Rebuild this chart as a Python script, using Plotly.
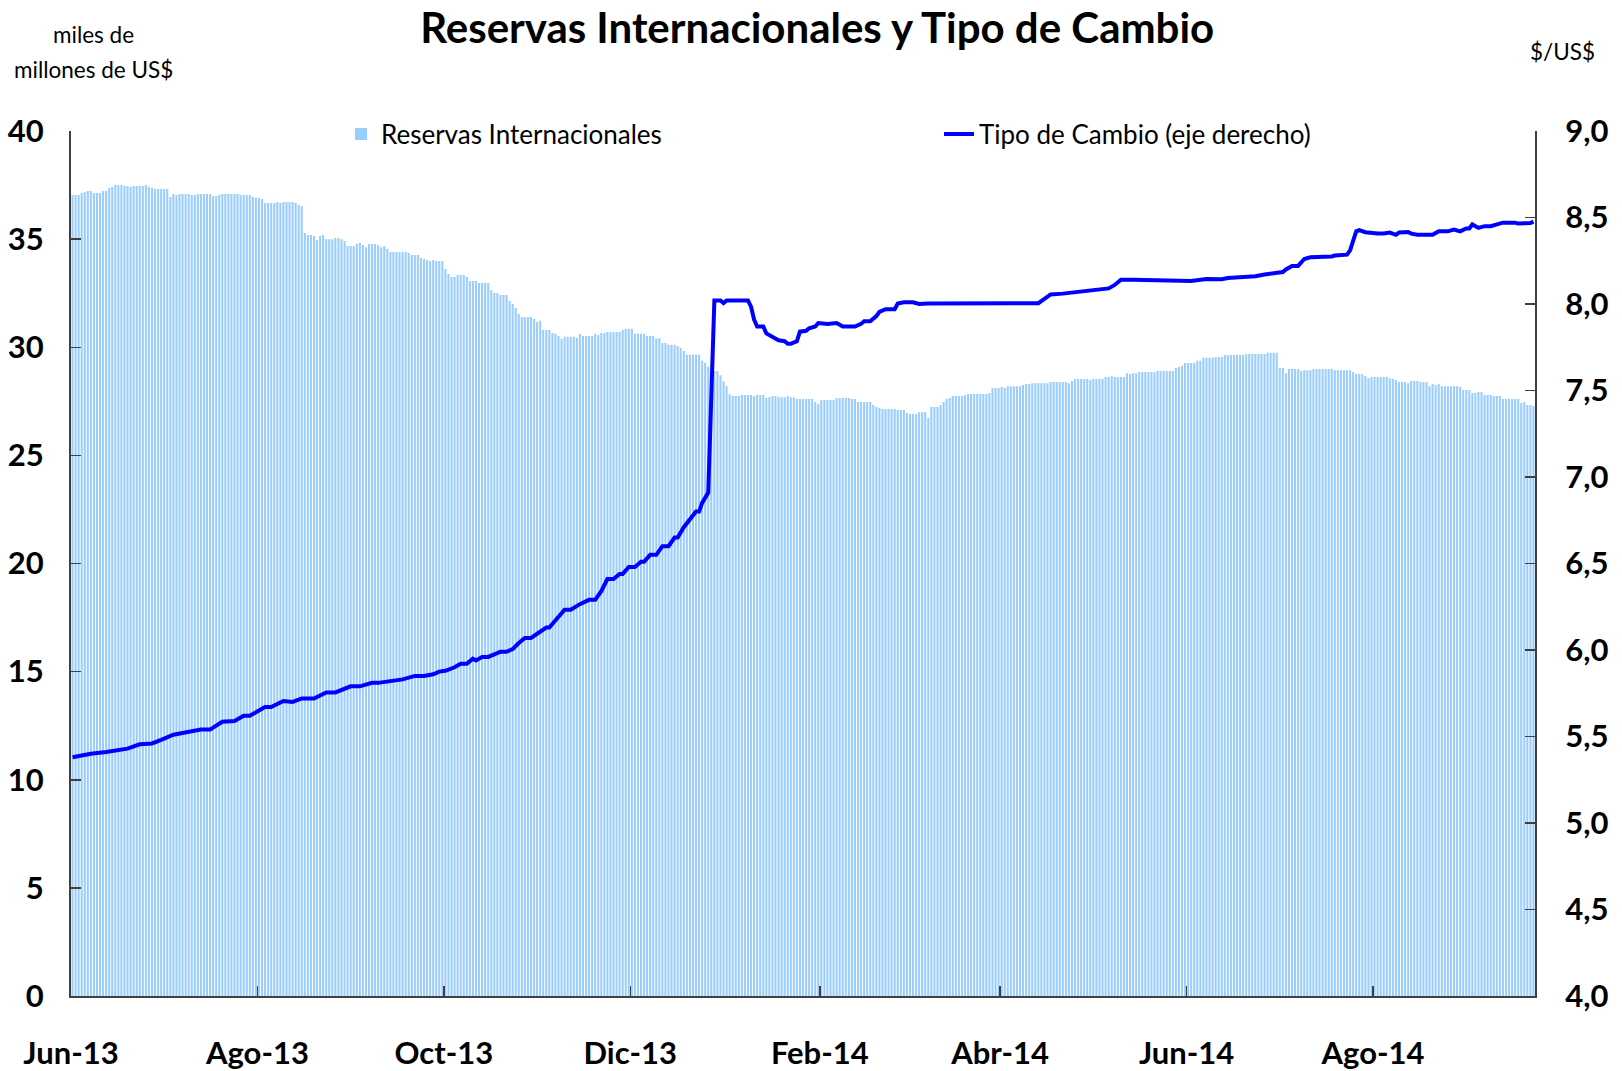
import pandas as pd
import plotly.graph_objects as go

# ---- Data ----
start_date = "2013-06-01"

# Daily international reserves (billions US$), one value per calendar day from 2013-06-01
reservas = [
    37.04, 37.04, 37.04, 37.13, 37.18, 37.23, 37.23, 37.13, 37.13, 37.13,
    37.23, 37.23, 37.37, 37.41, 37.50, 37.50, 37.50, 37.46, 37.46, 37.41,
    37.46, 37.46, 37.46, 37.46, 37.50, 37.41, 37.37, 37.32, 37.32, 37.32,
    37.32, 37.32, 36.95, 37.09, 37.04, 37.09, 37.09, 37.09, 37.09, 37.04,
    37.04, 37.09, 37.09, 37.09, 37.09, 37.09, 37.00, 37.00, 37.04, 37.09,
    37.09, 37.09, 37.09, 37.09, 37.09, 37.04, 37.04, 37.04, 37.04, 36.95,
    36.91, 36.91, 36.86, 36.67, 36.67, 36.67, 36.67, 36.72, 36.67, 36.72,
    36.72, 36.72, 36.72, 36.67, 36.58, 36.53, 35.28, 35.19, 35.19, 35.14,
    34.96, 35.14, 35.19, 35.00, 35.00, 35.00, 35.05, 35.05, 35.00, 34.91,
    34.68, 34.68, 34.68, 34.77, 34.82, 34.73, 34.63, 34.77, 34.77, 34.77,
    34.73, 34.63, 34.68, 34.54, 34.40, 34.40, 34.40, 34.40, 34.40, 34.40,
    34.36, 34.27, 34.27, 34.27, 34.13, 34.08, 34.03, 33.99, 34.03, 33.99,
    33.99, 33.99, 33.62, 33.39, 33.25, 33.25, 33.34, 33.34, 33.34, 33.25,
    33.06, 33.06, 33.06, 32.97, 32.97, 32.97, 32.97, 32.65, 32.51, 32.51,
    32.42, 32.42, 32.42, 32.14, 32.00, 31.82, 31.54, 31.40, 31.40, 31.40,
    31.40, 31.31, 31.17, 31.22, 30.80, 30.80, 30.80, 30.66, 30.62, 30.52,
    30.39, 30.48, 30.48, 30.48, 30.48, 30.43, 30.62, 30.52, 30.52, 30.52,
    30.52, 30.62, 30.57, 30.66, 30.66, 30.71, 30.71, 30.71, 30.71, 30.71,
    30.80, 30.85, 30.85, 30.85, 30.62, 30.62, 30.62, 30.62, 30.52, 30.52,
    30.52, 30.39, 30.43, 30.20, 30.20, 30.11, 30.11, 30.11, 30.06, 29.97,
    29.83, 29.65, 29.65, 29.65, 29.65, 29.65, 29.37, 29.28, 29.10, 28.90,
    28.90, 28.90, 28.71, 28.43, 28.20, 27.83, 27.74, 27.74, 27.74, 27.79,
    27.79, 27.79, 27.79, 27.74, 27.79, 27.79, 27.79, 27.65, 27.69, 27.74,
    27.74, 27.69, 27.69, 27.69, 27.74, 27.69, 27.69, 27.61, 27.61, 27.61,
    27.61, 27.61, 27.61, 27.47, 27.38, 27.56, 27.56, 27.56, 27.56, 27.56,
    27.65, 27.65, 27.65, 27.65, 27.65, 27.61, 27.61, 27.47, 27.47, 27.47,
    27.47, 27.47, 27.33, 27.24, 27.19, 27.14, 27.14, 27.14, 27.14, 27.14,
    27.10, 27.10, 27.10, 26.96, 26.91, 26.91, 26.91, 27.00, 27.00, 27.00,
    26.73, 27.24, 27.24, 27.24, 27.33, 27.47, 27.61, 27.65, 27.74, 27.74,
    27.74, 27.74, 27.79, 27.84, 27.84, 27.84, 27.84, 27.84, 27.84, 27.84,
    27.88, 28.11, 28.11, 28.11, 28.16, 28.11, 28.20, 28.20, 28.20, 28.20,
    28.20, 28.25, 28.30, 28.30, 28.34, 28.34, 28.34, 28.34, 28.34, 28.34,
    28.39, 28.39, 28.39, 28.39, 28.39, 28.39, 28.34, 28.44, 28.53, 28.53,
    28.53, 28.53, 28.53, 28.48, 28.53, 28.53, 28.53, 28.53, 28.62, 28.62,
    28.67, 28.62, 28.62, 28.62, 28.62, 28.80, 28.76, 28.80, 28.80, 28.85,
    28.85, 28.85, 28.85, 28.85, 28.85, 28.90, 28.90, 28.90, 28.90, 28.90,
    28.90, 29.04, 29.09, 29.14, 29.27, 29.27, 29.27, 29.27, 29.37, 29.37,
    29.51, 29.51, 29.51, 29.51, 29.55, 29.55, 29.55, 29.64, 29.64, 29.64,
    29.64, 29.64, 29.64, 29.64, 29.69, 29.69, 29.69, 29.69, 29.69, 29.69,
    29.69, 29.74, 29.74, 29.74, 29.74, 29.04, 29.04, 28.80, 28.99, 28.99,
    28.99, 28.99, 28.90, 28.94, 28.94, 28.94, 28.99, 28.99, 28.99, 28.99,
    28.99, 28.99, 28.99, 28.94, 28.94, 28.94, 28.94, 28.94, 28.94, 28.85,
    28.76, 28.76, 28.76, 28.67, 28.57, 28.62, 28.62, 28.62, 28.62, 28.62,
    28.62, 28.57, 28.53, 28.48, 28.39, 28.39, 28.39, 28.34, 28.44, 28.44,
    28.44, 28.39, 28.39, 28.39, 28.20, 28.30, 28.25, 28.30, 28.20, 28.20,
    28.20, 28.20, 28.20, 28.20, 28.16, 28.02, 28.02, 28.02, 27.88, 27.88,
    27.93, 27.93, 27.79, 27.79, 27.79, 27.74, 27.74, 27.74, 27.61, 27.61,
    27.61, 27.61, 27.61, 27.61, 27.42, 27.47, 27.33, 27.33, 27.28,
]

# Exchange rate ($/US$) observations
tc_fechas = [
    "2013-06-01", "2013-06-07", "2013-06-12", "2013-06-15", "2013-06-19", "2013-06-23",
    "2013-06-27", "2013-06-30", "2013-07-04", "2013-07-07", "2013-07-10", "2013-07-13",
    "2013-07-16", "2013-07-20", "2013-07-24", "2013-07-27", "2013-07-29", "2013-08-03",
    "2013-08-05", "2013-08-09", "2013-08-12", "2013-08-15", "2013-08-19", "2013-08-23",
    "2013-08-26", "2013-08-28", "2013-08-31", "2013-09-03", "2013-09-07", "2013-09-09",
    "2013-09-14", "2013-09-17", "2013-09-21", "2013-09-24", "2013-09-27", "2013-09-29",
    "2013-10-01", "2013-10-04", "2013-10-06", "2013-10-08", "2013-10-10", "2013-10-11",
    "2013-10-13", "2013-10-15", "2013-10-17", "2013-10-19", "2013-10-21", "2013-10-23",
    "2013-10-25", "2013-10-27", "2013-10-29", "2013-11-03", "2013-11-04", "2013-11-06",
    "2013-11-09", "2013-11-11", "2013-11-14", "2013-11-17", "2013-11-19", "2013-11-21",
    "2013-11-23", "2013-11-25", "2013-11-27", "2013-11-28", "2013-11-30", "2013-12-02",
    "2013-12-04", "2013-12-05", "2013-12-07", "2013-12-09", "2013-12-11", "2013-12-13",
    "2013-12-15", "2013-12-16", "2013-12-18", "2013-12-22", "2013-12-23", "2013-12-24",
    "2013-12-26", "2013-12-28", "2013-12-30", "2013-12-31", "2014-01-01", "2014-01-03",
    "2014-01-06", "2014-01-08", "2014-01-09", "2014-01-10", "2014-01-11", "2014-01-13",
    "2014-01-14", "2014-01-16", "2014-01-18", "2014-01-20", "2014-01-21", "2014-01-22",
    "2014-01-24", "2014-01-25", "2014-01-27", "2014-01-28", "2014-01-30", "2014-01-31",
    "2014-02-03", "2014-02-06", "2014-02-08", "2014-02-12", "2014-02-14", "2014-02-15",
    "2014-02-17", "2014-02-19", "2014-02-20", "2014-02-22", "2014-02-25", "2014-02-26",
    "2014-02-28", "2014-03-03", "2014-03-05", "2014-03-08", "2014-03-28", "2014-04-13",
    "2014-04-15", "2014-04-17", "2014-04-21", "2014-04-27", "2014-05-02", "2014-05-06",
    "2014-05-08", "2014-05-10", "2014-05-14", "2014-05-20", "2014-05-22", "2014-06-02",
    "2014-06-07", "2014-06-12", "2014-06-14", "2014-06-19", "2014-06-23", "2014-06-26",
    "2014-06-30", "2014-07-02", "2014-07-03", "2014-07-05", "2014-07-07", "2014-07-09",
    "2014-07-11", "2014-07-14", "2014-07-18", "2014-07-19", "2014-07-23", "2014-07-24",
    "2014-07-26", "2014-07-27", "2014-07-29", "2014-08-02", "2014-08-04", "2014-08-06",
    "2014-08-08", "2014-08-09", "2014-08-12", "2014-08-13", "2014-08-15", "2014-08-20",
    "2014-08-22", "2014-08-25", "2014-08-27", "2014-08-29", "2014-08-31", "2014-09-01",
    "2014-09-02", "2014-09-04", "2014-09-06", "2014-09-08", "2014-09-10", "2014-09-12",
    "2014-09-16", "2014-09-17", "2014-09-21", "2014-09-22",
]
tipo_cambio = [
    5.38, 5.40, 5.41, 5.42, 5.43, 5.455,
    5.46, 5.48, 5.51, 5.52, 5.53, 5.54,
    5.54, 5.585, 5.59, 5.62, 5.62, 5.67,
    5.67, 5.705, 5.70, 5.72, 5.72, 5.755,
    5.755, 5.77, 5.79, 5.79, 5.81, 5.81,
    5.826, 5.83, 5.85, 5.85, 5.86, 5.875,
    5.88, 5.90, 5.92, 5.92, 5.95, 5.94,
    5.96, 5.96, 5.975, 5.99, 5.99, 6.005,
    6.04, 6.07, 6.07, 6.13, 6.13, 6.17,
    6.233, 6.233, 6.265, 6.29, 6.29, 6.34,
    6.41, 6.41, 6.44, 6.44, 6.48, 6.48,
    6.51, 6.51, 6.55, 6.55, 6.60, 6.60,
    6.65, 6.65, 6.71, 6.80, 6.80, 6.85,
    6.91, 8.02, 8.02, 8.005, 8.02, 8.02,
    8.02, 8.02, 7.985, 7.91, 7.87, 7.87,
    7.83, 7.81, 7.79, 7.785, 7.77, 7.77,
    7.785, 7.84, 7.845, 7.86, 7.87, 7.89,
    7.885, 7.89, 7.87, 7.87, 7.885, 7.90,
    7.90, 7.93, 7.955, 7.97, 7.97, 8.003,
    8.01, 8.01, 8.00, 8.003, 8.003, 8.005,
    8.03, 8.055, 8.06, 8.07, 8.08, 8.09,
    8.11, 8.14, 8.14, 8.139, 8.133, 8.133,
    8.145, 8.143, 8.15, 8.156, 8.16, 8.171,
    8.177, 8.185, 8.20, 8.22, 8.22, 8.26,
    8.27, 8.27, 8.275, 8.28, 8.285, 8.31,
    8.42, 8.427, 8.415, 8.407, 8.407, 8.413,
    8.40, 8.413, 8.416, 8.407, 8.40, 8.40,
    8.42, 8.42, 8.43, 8.42, 8.437, 8.437,
    8.46, 8.44, 8.45, 8.45, 8.46, 8.47,
    8.47, 8.465, 8.468, 8.476,
]

tick_fechas = ["2013-06-01", "2013-08-01", "2013-10-01", "2013-12-01",
               "2014-02-01", "2014-04-01", "2014-06-01", "2014-08-01"]
tick_textos = ["Jun-13", "Ago-13", "Oct-13", "Dic-13",
               "Feb-14", "Abr-14", "Jun-14", "Ago-14"]

fechas = pd.date_range(start_date, periods=len(reservas), freq="D")
fin = fechas[-1] + pd.Timedelta(days=1)

FONT = "Lato"
DAY_MS = 86400000

W, H = 1622, 1071
ML, MR, MT, MB = 71, 87, 131, 75
PW, PH = W - ML - MR, H - MT - MB


def px(xf):
    return (xf - ML) / PW


def py(yf):
    return (H - MB - yf) / PH


fig = go.Figure()
fig.add_trace(go.Bar(
    x=fechas, y=reservas, name="Reservas Internacionales",
    marker=dict(color="#99CCFF", line=dict(width=0)),
    xperiod=DAY_MS, xperiodalignment="middle",
))
fig.add_trace(go.Scatter(
    x=pd.to_datetime(tc_fechas), y=tipo_cambio, name="Tipo de Cambio (eje derecho)",
    mode="lines", line=dict(color="#0000FF", width=4),
    xperiod=DAY_MS, xperiodalignment="middle", yaxis="y2",
))

axis_col = "#404040"
tickfont = dict(family=FONT, size=31, weight="bold", color="black")
fig.update_layout(
    width=W, height=H,
    margin=dict(l=ML, r=MR, t=MT, b=MB, autoexpand=False),
    paper_bgcolor="white", plot_bgcolor="white",
    separators=",.",
    bargap=0.33,
    font=dict(family=FONT, color="black"),
    title=dict(text="Reservas Internacionales y Tipo de Cambio",
               font=dict(family=FONT, size=42, weight="bold", color="black"),
               x=(790 * 1622 / 1568) / W, xanchor="center", xref="container",
               y=1 - 28 / H, yanchor="middle", yref="container"),
    xaxis=dict(type="date", range=[start_date, fin],
               tickvals=tick_fechas, ticktext=tick_textos,
               ticks="inside", ticklen=10, tickwidth=1.5, tickcolor=axis_col,
               showline=True, linecolor=axis_col, linewidth=2,
               showgrid=False, zeroline=False, automargin=False,
               tickfont=tickfont, ticklabelstandoff=29),
    yaxis=dict(range=[0, 40], dtick=5, tick0=0,
               ticks="inside", ticklen=10, tickwidth=1.5, tickcolor=axis_col,
               showline=True, linecolor=axis_col, linewidth=2,
               showgrid=False, zeroline=False, automargin=False,
               tickfont=tickfont, ticklabelstandoff=19),
    yaxis2=dict(range=[4, 9], dtick=0.5, tick0=4, tickformat=".1f",
                overlaying="y", side="right",
                ticks="inside", ticklen=10, tickwidth=1.5, tickcolor=axis_col,
                showline=True, linecolor=axis_col, linewidth=2,
                showgrid=False, zeroline=False, automargin=False,
                tickfont=tickfont, ticklabelstandoff=22),
    legend=dict(orientation="h", x=px(341), xanchor="left", y=py(134), yanchor="middle",
                font=dict(family=FONT, size=26, color="black"), entrywidth=553,
                bgcolor="rgba(0,0,0,0)"),
    showlegend=True,
)

ann_font = dict(family=FONT, size=22.5, color="black")
fig.add_annotation(text="miles de", xref="paper", yref="paper",
                   x=px(93), y=py(34), showarrow=False,
                   xanchor="center", yanchor="middle", font=ann_font)
fig.add_annotation(text="millones de US$", xref="paper", yref="paper",
                   x=px(93), y=py(70), showarrow=False,
                   xanchor="center", yanchor="middle", font=ann_font)
fig.add_annotation(text="$/US$", xref="paper", yref="paper",
                   x=px(1563), y=py(51), showarrow=False,
                   xanchor="center", yanchor="middle", font=ann_font)

fig.write_html(
    "out.html",
    config={"displayModeBar": False, "staticPlot": True},
    post_script="document.body.style.margin='0';document.body.style.padding='0';"
                "document.body.style.overflow='hidden';",
)
